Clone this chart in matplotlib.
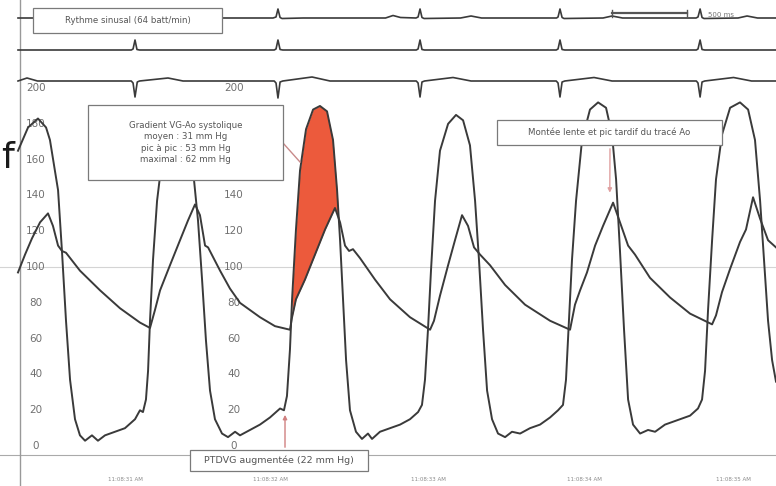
import matplotlib.pyplot as plt
import numpy as np
from matplotlib.patches import Rectangle
from matplotlib.lines import Line2D

# ---- data (time in ms, pressure in mmHg) ----
lv_t = [0, 67, 133, 187, 213, 240, 267, 293, 320, 347, 380, 413, 447, 493, 533, 580, 647, 713,
        780, 813, 833, 853, 867, 880, 900, 927, 960, 1013, 1067, 1120, 1167, 1200, 1227, 1253,
        1280, 1313, 1360, 1400, 1447, 1480, 1547, 1613, 1680, 1720, 1747, 1773, 1793, 1813, 1827,
        1853, 1880, 1920, 1967, 2013, 2060, 2100, 2127, 2147, 2167, 2187, 2213, 2253, 2293, 2333,
        2360, 2413, 2480, 2547, 2613, 2667, 2693, 2713, 2733, 2753, 2780, 2813, 2867, 2920, 2967,
        3013, 3047, 3073, 3100, 3127, 3160, 3200, 3247, 3293, 3347, 3413, 3480, 3547, 3600, 3633,
        3653, 3673, 3693, 3720, 3760, 3813, 3867, 3920, 3960, 3987, 4013, 4040, 4067, 4100, 4147,
        4200, 4247, 4313, 4413, 4480, 4533, 4560, 4580, 4600, 4627, 4653, 4693, 4747, 4813, 4867,
        4913, 4947, 4973, 5000, 5027, 5053]
lv_p = [165, 178, 183, 178, 171, 157, 143, 109, 70, 37, 15, 6, 3, 6, 3, 6, 8, 10,
        15, 20, 19, 26, 42, 70, 104, 137, 160, 177, 182, 174, 154, 126, 93, 59,
        31, 15, 7, 5, 8, 6, 9, 12, 16, 19, 21, 20, 28, 54, 82,
        121, 154, 177, 188, 190, 187, 171, 143, 115, 82, 48, 20, 8, 4, 7,
        4, 8, 10, 12, 15, 19, 23, 37, 65, 98, 137, 165, 180, 185, 182,
        168, 137, 104, 65, 31, 15, 7, 5, 8, 7, 10, 12, 16, 20, 23,
        37, 70, 104, 137, 171, 188, 192, 189, 174, 149, 109, 65, 26, 12, 7,
        9, 8, 12, 15, 17, 21, 26, 42, 76, 115, 149, 174, 189, 192, 188,
        171, 137, 104, 70, 48, 36]

ao_t = [0, 47, 93, 147, 200, 233, 267, 293, 320, 413, 547, 680, 813, 880, 913, 947, 1013, 1080,
        1133, 1180, 1213, 1247, 1267, 1347, 1413, 1480, 1613, 1713, 1813, 1827, 1853, 1913, 1980,
        2047, 2113, 2147, 2180, 2207, 2233, 2280, 2380, 2480, 2613, 2747, 2773, 2813, 2867, 2913,
        2960, 3000, 3040, 3080, 3147, 3247, 3380, 3547, 3680, 3713, 3747, 3793, 3847, 3900, 3967,
        4013, 4067, 4113, 4213, 4347, 4480, 4627, 4653, 4693, 4747, 4813, 4853, 4900, 4947, 5000,
        5053]
ao_p = [97, 107, 116, 125, 130, 123, 112, 109, 108, 98, 87, 77, 69, 66, 76, 87, 101, 115,
        126, 135, 129, 112, 111, 98, 88, 80, 72, 67, 65, 72, 82, 93, 107,
        121, 133, 125, 112, 109, 110, 105, 93, 82, 72, 65, 70, 84, 101, 115,
        129, 123, 111, 107, 101, 90, 79, 70, 65, 79, 87, 97, 112, 123, 136,
        125, 112, 107, 94, 83, 74, 68, 73, 86, 99, 114, 121, 139, 127, 115,
        111]

# ECG strips (ms, mV)
ecg1 = [(0, 0), (1700, 0), (1720, 0.1), (1733, 0.9), (1747, 0.05), (1760, -0.05), (1900, 0),
        (2450, 0), (2500, 0.25), (2550, 0.05), (2653, 0), (2667, 0.1), (2680, 0.9), (2693, 0.05),
        (2707, -0.05), (2950, 0), (3020, 0.2), (3090, 0), (3590, 0), (3600, 0.1), (3613, 0.9),
        (3627, 0.05), (3640, -0.05), (3900, 0), (3960, 0.2), (4030, 0), (4520, 0), (4533, 0.1),
        (4547, 0.9), (4560, 0.05), (4573, -0.05), (4800, 0), (4860, 0.2), (4930, 0), (5053, 0)]
ecg2 = [(0, 0), (755, 0), (767, 0.1), (780, 1.0), (793, 0.05), (810, 0), (1708, 0), (1720, 0.1),
        (1733, 1.0), (1747, 0.05), (1765, 0), (2655, 0), (2667, 0.1), (2680, 1.0), (2693, 0.05),
        (2710, 0), (3588, 0), (3600, 0.1), (3613, 1.0), (3627, 0.05), (3645, 0), (4522, 0),
        (4533, 0.1), (4547, 1.0), (4560, 0.05), (4578, 0), (5053, 0)]
ecg3 = [(0, 0), (60, 0.3), (130, 0), (755, 0), (767, -0.2), (780, -1.6), (795, -0.1), (810, 0),
        (1000, 0.3), (1100, 0), (1708, 0), (1720, -0.2), (1733, -1.7), (1747, -0.1), (1765, 0),
        (1960, 0.4), (2080, 0), (2655, 0), (2667, -0.2), (2680, -1.6), (2693, -0.1), (2710, 0),
        (2900, 0.35), (3020, 0), (3588, 0), (3600, -0.2), (3613, -1.6), (3627, -0.1), (3645, 0),
        (3840, 0.35), (3960, 0), (4522, 0), (4533, -0.2), (4547, -1.6), (4560, -0.1), (4578, 0),
        (4770, 0.35), (4890, 0), (5053, 0)]

y_ticks = [0, 20, 40, 60, 80, 100, 120, 140, 160, 180, 200]
y_ticks_mid = [0, 20, 40, 60, 80, 100, 120, 140, 200]  # 160/180 sit under the gradient box
time_pos = [713, 1680, 2733, 3773, 4767]
time_labels = ["11:08:31 AM", "11:08:32 AM", "11:08:33 AM", "11:08:34 AM", "11:08:35 AM"]

W, H = 776, 486
XLIM = (-120, 5053)
TRACE = '#3a3a3a'

def fx(px):
    return px / W

def fy(py):
    return 1 - py / H

fig = plt.figure(figsize=(7.76, 4.86), dpi=100, facecolor='white')

# pressure panel
ax = fig.add_axes([0, 0, 1, 1])
ax.set_xlim(*XLIM)
ax.set_ylim(-22.3, 249.2)
ax.axis('off')

ax.axhline(100, color='#d4d4d4', lw=0.8, zorder=1)
ax.axhline(-5, color='#aaaaaa', lw=0.8, zorder=1)
ax.axvline(13, color='#999999', lw=1.0, zorder=1)

# systolic gradient (LV above Ao)
tt = np.linspace(1827, 2140, 300)
lv_i = np.interp(tt, lv_t, lv_p)
ao_i = np.interp(tt, ao_t, ao_p)
ax.fill_between(tt, ao_i, lv_i, where=lv_i > ao_i, interpolate=True,
                color='#ec5a3c', lw=0, zorder=2)

ax.plot(lv_t, lv_p, color=TRACE, lw=1.4, zorder=3)
ax.plot(ao_t, ao_p, color=TRACE, lw=1.4, zorder=3)

ytr = ax.get_yaxis_transform()
for v in y_ticks:
    ax.text(fx(36), v, str(v), transform=ytr, ha='center', va='center',
            fontsize=7.5, color='#707070', zorder=2)
for v in y_ticks_mid:
    ax.text(fx(234), v, str(v), transform=ytr, ha='center', va='center',
            fontsize=7.5, color='#707070', zorder=2)

for t, s in zip(time_pos, time_labels):
    ax.text(t, -18.4, s, ha='center', va='center', fontsize=4, color='#8a8a8a')

# ECG strips
for data, center in [(ecg1, 18), (ecg2, 50), (ecg3, 81)]:
    e = fig.add_axes([0, fy(center + 15), 1, 30 / H])
    e.set_xlim(*XLIM)
    e.set_ylim(-1.5, 1.5)
    e.axis('off')
    e.patch.set_alpha(0)
    et, ev = zip(*data)
    e.plot(et, ev, color=TRACE, lw=1.2, clip_on=False)
    if center == 18:
        e.plot([3960, 4460], [0.45, 0.45], color='#555555', lw=1.6)
        e.plot([3960, 3960], [0.1, 0.8], color='#555555', lw=1)
        e.plot([4460, 4460], [0.1, 0.8], color='#555555', lw=1)
        e.text(4600, 0.3, '500 ms', fontsize=5, color='#777777', va='center')

# annotation boxes
def box(x0, y0, x1, y1, text, fs=6.2):
    fig.add_artist(Rectangle((fx(x0), fy(y1)), (x1 - x0) / W, (y1 - y0) / H,
                             transform=fig.transFigure, facecolor='white',
                             edgecolor='#7a7a7a', lw=0.9, zorder=5))
    fig.text(fx((x0 + x1) / 2), fy((y0 + y1) / 2), text, ha='center', va='center',
             fontsize=fs, color='#555555', linespacing=1.35, zorder=6)

box(33, 8, 222, 33, 'Rythme sinusal (64 batt/min)')
box(88, 105, 283, 180, 'Gradient VG-Ao systolique\nmoyen : 31 mm Hg\n'
    'pic à pic : 53 mm Hg\nmaximal : 62 mm Hg')
box(497, 120, 722, 145, 'Montée lente et pic tardif du tracé Ao')
box(190, 450, 368, 471, 'PTDVG augmentée (22 mm Hg)', fs=6.8)

fig.add_artist(Line2D([fx(283), fx(300)], [fy(143), fy(162)], transform=fig.transFigure,
                      color='#c88a8a', lw=1.0, zorder=4))
ax.annotate('', xy=(3945, 140), xytext=(fx(610), fy(146)), textcoords='figure fraction',
            arrowprops=dict(arrowstyle='-|>', color='#e0a0a0', lw=1.0, mutation_scale=6),
            zorder=4)
ax.annotate('', xy=(1780, 19), xytext=(fx(285), fy(450)), textcoords='figure fraction',
            arrowprops=dict(arrowstyle='-|>', color='#d08080', lw=1.0, mutation_scale=6),
            zorder=4)

fig.text(fx(1), fy(168), 'f', fontsize=26, color='#1a1a1a', va='baseline')

fig.savefig('out.png', dpi=100)
